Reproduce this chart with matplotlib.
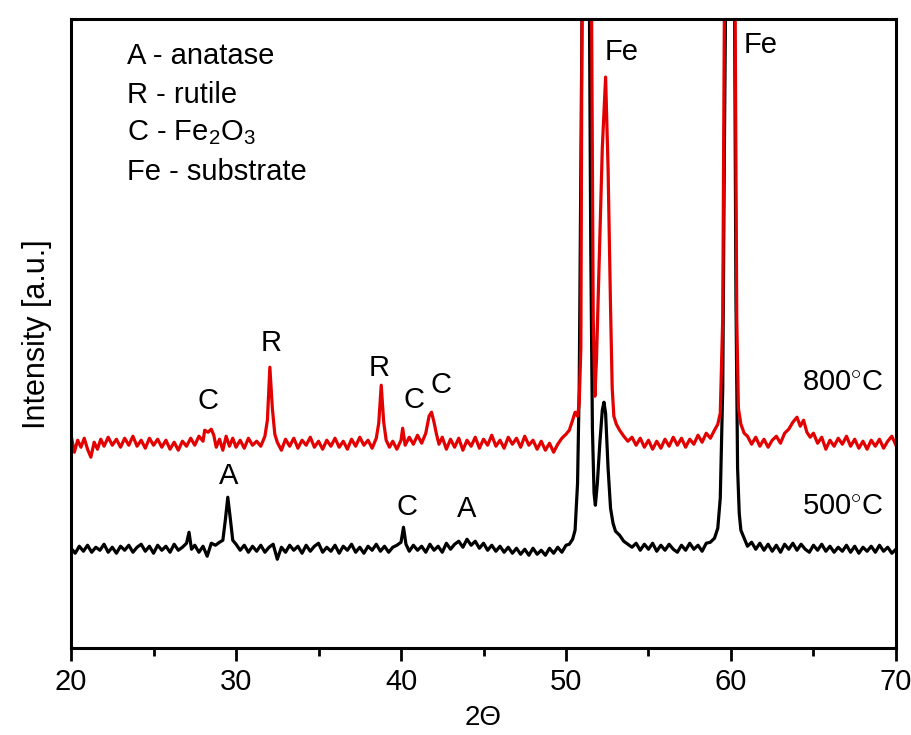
import matplotlib
matplotlib.use("Agg")
import matplotlib.pyplot as plt
from matplotlib import font_manager
from matplotlib.ticker import MultipleLocator

# XRD patterns (intensity in arbitrary units)
black_2theta = [
    20.0, 20.25, 20.5, 20.75, 21.0, 21.25, 21.5, 21.75, 22.0, 22.25,
    22.5, 22.75, 23.0, 23.25, 23.5, 23.75, 24.0, 24.25, 24.5, 24.75,
    25.0, 25.25, 25.5, 25.75, 26.0, 26.25, 26.5, 26.75, 27.0, 27.15,
    27.3, 27.5, 27.75, 28.0, 28.25, 28.5, 28.75, 29.0, 29.2, 29.35,
    29.5, 29.65, 29.8, 30.0, 30.25, 30.5, 30.75, 31.0, 31.25, 31.5,
    31.75, 32.0, 32.25, 32.5, 32.75, 33.0, 33.25, 33.5, 33.75, 34.0,
    34.25, 34.5, 34.75, 35.0, 35.25, 35.5, 35.75, 36.0, 36.25, 36.5,
    36.75, 37.0, 37.25, 37.5, 37.75, 38.0, 38.25, 38.5, 38.75, 39.0,
    39.25, 39.5, 39.75, 40.0, 40.15, 40.3, 40.5, 40.75, 41.0, 41.25,
    41.5, 41.75, 42.0, 42.25, 42.5, 42.75, 43.0, 43.25, 43.5, 43.75,
    44.0, 44.25, 44.5, 44.75, 45.0, 45.25, 45.5, 45.75, 46.0, 46.25,
    46.5, 46.75, 47.0, 47.25, 47.5, 47.75, 48.0, 48.25, 48.5, 48.75,
    49.0, 49.25, 49.5, 49.75, 50.0, 50.2, 50.4, 50.55, 50.7, 50.8,
    50.9, 51.0, 51.2, 51.4, 51.5, 51.6, 51.7, 51.78, 51.9, 52.05,
    52.2, 52.3, 52.4, 52.55, 52.7, 52.85, 53.0, 53.25, 53.5, 53.75,
    54.0, 54.25, 54.5, 54.75, 55.0, 55.25, 55.5, 55.75, 56.0, 56.25,
    56.5, 56.75, 57.0, 57.25, 57.5, 57.75, 58.0, 58.25, 58.5, 58.75,
    59.0, 59.2, 59.35, 59.5, 59.6, 59.7, 59.95, 60.2, 60.3, 60.4,
    60.5, 60.6, 60.75, 61.0, 61.25, 61.5, 61.75, 62.0, 62.25, 62.5,
    62.75, 63.0, 63.25, 63.5, 63.75, 64.0, 64.25, 64.5, 64.75, 65.0,
    65.25, 65.5, 65.75, 66.0, 66.25, 66.5, 66.75, 67.0, 67.25, 67.5,
    67.75, 68.0, 68.25, 68.5, 68.75, 69.0, 69.25, 69.5, 69.75, 70.0,
]
black_int = [
    100, 95, 102, 97, 103, 96, 101, 98, 104, 96,
    101, 95, 102, 98, 103, 96, 101, 104, 97, 102,
    95, 103, 98, 102, 96, 104, 98, 101, 105, 116,
    99, 103, 96, 102, 92, 105, 103, 106, 108, 128,
    151, 130, 108, 104, 98, 103, 96, 102, 97, 103,
    96, 101, 104, 89, 101, 96, 103, 98, 102, 95,
    103, 97, 102, 105, 96, 101, 97, 103, 95, 102,
    98, 104, 96, 101, 95, 102, 98, 104, 97, 102,
    96, 101, 103, 106, 121, 104, 97, 103, 98, 102,
    96, 104, 98, 102, 96, 105, 99, 104, 107, 101,
    109, 103, 107, 100, 105, 98, 103, 97, 102, 96,
    101, 95, 100, 94, 99, 93, 100, 94, 98, 93,
    100, 95, 101, 96, 103, 104, 109, 118, 165, 260,
    480, 700, 900, 700, 400, 220, 155, 143, 165, 205,
    238, 246, 235, 180, 140, 125, 117, 113, 107, 104,
    101, 105, 98, 104, 99, 105, 97, 103, 98, 104,
    99, 96, 103, 98, 105, 99, 103, 97, 105, 106,
    110, 120, 150, 260, 500, 700, 900, 700, 350, 180,
    135, 118, 112, 102, 106, 99, 105, 98, 104, 97,
    103, 96, 104, 99, 105, 98, 104, 99, 96, 103,
    98, 104, 97, 102, 96, 101, 97, 103, 96, 102,
    95, 101, 97, 102, 96, 103, 97, 101, 95, 99,
]

red_2theta = [
    20.0, 20.2, 20.4, 20.6, 20.8, 21.0, 21.2, 21.4, 21.6, 21.8,
    22.0, 22.25, 22.5, 22.75, 23.0, 23.25, 23.5, 23.75, 24.0, 24.25,
    24.5, 24.75, 25.0, 25.25, 25.5, 25.75, 26.0, 26.25, 26.5, 26.75,
    27.0, 27.25, 27.5, 27.75, 28.0, 28.1, 28.3, 28.5, 28.65, 28.8,
    29.0, 29.2, 29.4, 29.6, 29.8, 30.0, 30.25, 30.5, 30.75, 31.0,
    31.25, 31.5, 31.75, 31.9, 32.05, 32.2, 32.35, 32.5, 32.75, 33.0,
    33.25, 33.5, 33.75, 34.0, 34.25, 34.5, 34.75, 35.0, 35.25, 35.5,
    35.75, 36.0, 36.25, 36.5, 36.75, 37.0, 37.25, 37.5, 37.75, 38.0,
    38.25, 38.5, 38.65, 38.8, 38.95, 39.1, 39.3, 39.5, 39.75, 40.0,
    40.1, 40.25, 40.5, 40.75, 41.0, 41.25, 41.5, 41.7, 41.85, 42.0,
    42.15, 42.3, 42.5, 42.75, 43.0, 43.25, 43.5, 43.75, 44.0, 44.25,
    44.5, 44.75, 45.0, 45.25, 45.5, 45.75, 46.0, 46.25, 46.5, 46.75,
    47.0, 47.25, 47.5, 47.75, 48.0, 48.25, 48.5, 48.75, 49.0, 49.25,
    49.5, 49.75, 50.0, 50.2, 50.4, 50.55, 50.7, 50.8, 50.9, 50.97,
    51.25, 51.55, 51.65, 51.75, 51.85, 52.0, 52.2, 52.4, 52.55, 52.7,
    52.8, 52.9, 53.05, 53.25, 53.5, 53.75, 54.0, 54.25, 54.5, 54.75,
    55.0, 55.25, 55.5, 55.75, 56.0, 56.25, 56.5, 56.75, 57.0, 57.25,
    57.5, 57.75, 58.0, 58.25, 58.5, 58.75, 59.0, 59.2, 59.35, 59.5,
    59.6, 59.95, 60.25, 60.35, 60.45, 60.6, 60.8, 61.0, 61.25, 61.5,
    61.75, 62.0, 62.25, 62.5, 62.75, 63.0, 63.25, 63.5, 63.75, 64.0,
    64.2, 64.4, 64.6, 64.8, 65.0, 65.25, 65.5, 65.75, 66.0, 66.25,
    66.5, 66.75, 67.0, 67.25, 67.5, 67.75, 68.0, 68.25, 68.5, 68.75,
    69.0, 69.25, 69.5, 69.75, 70.0,
]
red_int = [
    213, 196, 208, 201, 210, 199, 191, 206, 199, 209,
    202, 211, 203, 209, 201, 210, 203, 212, 202, 208,
    200, 210, 203, 209, 201, 208, 199, 206, 198, 207,
    202, 210, 203, 212, 207, 218, 216, 219, 213, 201,
    209, 198, 212, 202, 210, 201, 208, 200, 210, 203,
    207, 202, 212, 228, 281, 240, 214, 206, 198, 209,
    202, 210, 200, 208, 203, 211, 201, 207, 199, 208,
    202, 210, 201, 207, 199, 209, 202, 211, 203, 208,
    200, 210, 225, 263, 226, 208, 201, 207, 199, 208,
    220, 203, 211, 204, 213, 205, 215, 232, 236, 226,
    214, 204, 211, 199, 209, 201, 210, 198, 208, 202,
    211, 200, 209, 203, 213, 202, 208, 200, 211, 204,
    210, 201, 212, 203, 208, 199, 207, 198, 205, 196,
    204, 210, 214, 218, 228, 236, 232, 245, 300, 640,
    900, 640, 330, 252, 290, 380, 500, 571, 480, 340,
    260, 232, 224, 218, 212, 207, 211, 203, 210, 201,
    208, 199, 207, 200, 209, 202, 211, 203, 210, 201,
    209, 204, 213, 206, 215, 210, 218, 224, 235, 330,
    640, 900, 640, 330, 240, 224, 215, 212, 204, 211,
    202, 209, 201, 208, 212, 205, 215, 219, 226, 231,
    222, 228, 216, 211, 215, 205, 211, 199, 208, 202,
    210, 204, 212, 202, 209, 200, 207, 199, 208, 202,
    209, 200, 207, 212, 203,
]

# peak letters: (text, 2theta, height)
red_marks = [("C", 28.33, 247), ("R", 32.1, 305), ("R", 38.7, 280),
             ("C", 40.8, 248), ("C", 42.45, 263)]
black_marks = [("A", 29.55, 172), ("C", 40.38, 141), ("A", 44.0, 139)]
fe_marks = [("Fe", 53.4, 596), ("Fe", 61.8, 603)]
legend_lines = ["A - anatase", "R - rutile", r"C - Fe$_2$O$_3$", "Fe - substrate"]
legend_y = [592, 553, 516, 476]

names = {f.name for f in font_manager.fontManager.ttflist}
base = "Liberation Sans" if "Liberation Sans" in names else "DejaVu Sans"
plt.rcParams["font.family"] = [base, "DejaVu Sans"]
plt.rcParams["mathtext.fontset"] = "custom"
plt.rcParams["mathtext.rm"] = base

fig = plt.figure(figsize=(9.11, 7.35), dpi=100)
ax = fig.add_axes([0.078, 0.118, 0.9055, 0.856])

ax.plot(black_2theta, black_int, color="black", lw=2.3)
ax.plot(red_2theta, red_int, color="#e30000", lw=2.3)

ax.set_xlim(20, 70)
ax.set_ylim(0, 629)
ax.set_yticks([])
ax.xaxis.set_major_locator(MultipleLocator(10))
ax.xaxis.set_minor_locator(MultipleLocator(5))
ax.tick_params(axis="x", which="major", direction="out", length=9, width=2,
               pad=5, labelsize=21)
ax.tick_params(axis="x", which="minor", direction="out", length=6, width=2)
for sp in ax.spines.values():
    sp.set_linewidth(2.2)

ax.set_xlabel("2\u0398", fontsize=20, labelpad=7)
ax.set_ylabel("Intensity [a.u.]", fontsize=22, labelpad=14)

for txt, x, y in red_marks + black_marks + fe_marks:
    ax.text(x, y, txt, fontsize=21, ha="center", va="center")
ax.text(66.8, 265, "800$^{\\circ}$C", fontsize=21, ha="center", va="center")
ax.text(66.8, 141, "500$^{\\circ}$C", fontsize=21, ha="center", va="center")

for txt, y in zip(legend_lines, legend_y):
    ax.text(23.4, y, txt, fontsize=21, ha="left", va="center")

fig.savefig("out.png", dpi=100)
